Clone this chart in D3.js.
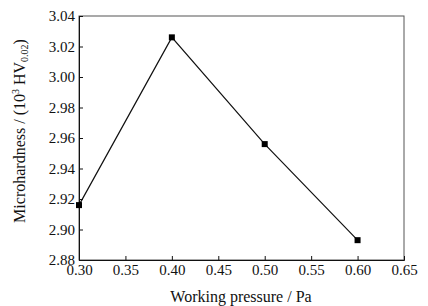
<!DOCTYPE html>
<html>
<head>
<meta charset="utf-8">
<script src="https://cdn.jsdelivr.net/npm/d3@7"></script>
<style>
body { margin: 0; background: #fff; }
text { font-family: "Liberation Serif", "Times New Roman", serif; fill: #111; }
</style>
</head>
<body>
<svg width="428" height="306"></svg>
<script>
// values
var pressure = [0.30, 0.40, 0.50, 0.60];
var hardness = [2.916, 3.026, 2.956, 2.893];
var xTicks = [0.30, 0.35, 0.40, 0.45, 0.50, 0.55, 0.60, 0.65];
var yTicks = [2.88, 2.90, 2.92, 2.94, 2.96, 2.98, 3.00, 3.02, 3.04];

var svg = d3.select("svg");
var pLeft = 79, pRight = 404, pTop = 16, pBottom = 260;

var x = d3.scaleLinear().domain([0.30, 0.65]).range([pLeft, pRight]);
var y = d3.scaleLinear().domain([2.88, 3.04]).range([pBottom, pTop]);

// frame
svg.append("rect")
  .attr("x", pLeft).attr("y", pTop)
  .attr("width", pRight - pLeft).attr("height", pBottom - pTop)
  .style("fill", "none")
  .style("stroke", "#555")
  .style("stroke-width", "1px");

var xAxis = svg.append("g")
  .attr("transform", "translate(0," + pBottom + ")")
  .call(d3.axisBottom(x).tickValues(xTicks).tickSize(-4).tickPadding(7).tickFormat(d3.format(".2f")));

var yAxis = svg.append("g")
  .attr("transform", "translate(" + pLeft + ",0)")
  .call(d3.axisLeft(y).tickValues(yTicks).tickSize(-4).tickPadding(4).tickFormat(d3.format(".2f")));

[xAxis, yAxis].forEach(function(g) {
  g.select(".domain").style("stroke", "#111");
  g.selectAll(".tick line").style("stroke", "#111");
  g.selectAll("text").style("font-size", "15px").style("font-family", "Liberation Serif");
});
xAxis.selectAll("text").attr("dy", "0.5em");

var pts = pressure.map(function(p, i) { return [p, hardness[i]]; });

svg.append("path")
  .datum(pts)
  .attr("d", d3.line().x(function(d) { return x(d[0]); }).y(function(d) { return y(d[1]); }))
  .style("fill", "none")
  .style("stroke", "#111")
  .style("stroke-width", "1.2px");

svg.selectAll("rect.pt")
  .data(pts)
  .enter()
  .append("rect")
  .attr("class", "pt")
  .attr("width", 6)
  .attr("height", 6)
  .attr("x", function(d) { return x(d[0]) - 3; })
  .attr("y", function(d) { return y(d[1]) - 3; })
  .style("fill", "#000");

svg.append("text")
  .attr("x", 241)
  .attr("y", 302)
  .attr("text-anchor", "middle")
  .style("font-size", "16px")
  .text("Working pressure / Pa");

var yl = svg.append("text")
  .attr("transform", "translate(25,131) rotate(-90)")
  .attr("text-anchor", "middle")
  .style("font-size", "16px");
yl.append("tspan").text("Microhardness / (10");
yl.append("tspan").attr("dy", "-6").style("font-size", "10px").text("3");
yl.append("tspan").attr("dy", "6").text(" HV");
yl.append("tspan").attr("dy", "3").style("font-size", "10px").text("0.02");
yl.append("tspan").attr("dy", "-3").text(")");
</script>
</body>
</html>
